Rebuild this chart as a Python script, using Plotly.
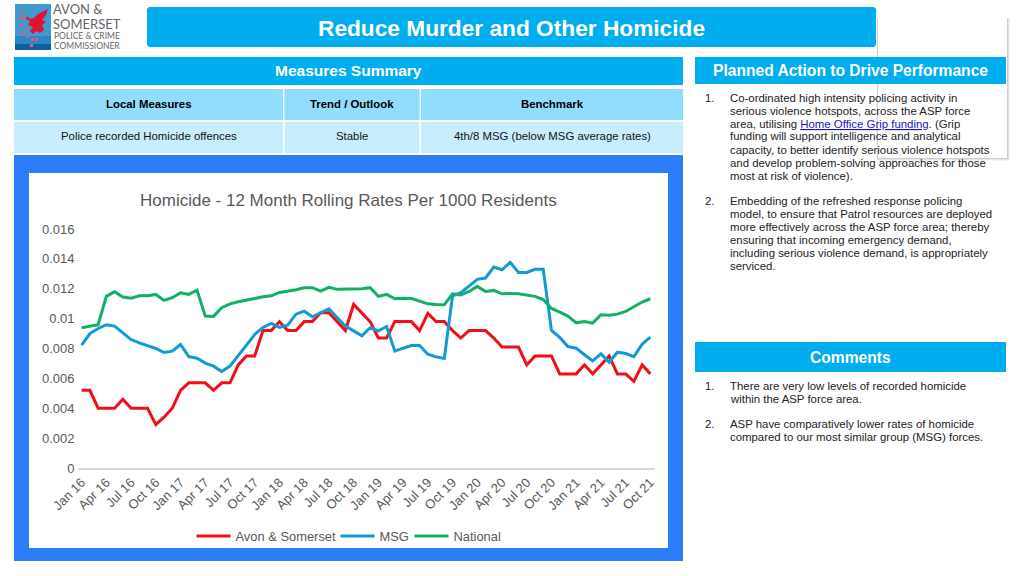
import plotly.graph_objects as go

W, H = 1024, 576
FONT = "Liberation Sans"

months = ["Jan", "Feb", "Mar", "Apr", "May", "Jun", "Jul", "Aug", "Sep", "Oct", "Nov", "Dec"]
categories = [f"{m} {y}" for y in (16, 17, 18, 19, 20, 21) for m in months][:70]
tick_labels = categories[::3]

avon_somerset = [.0052, .0052, .0040, .0040, .0040, .0046, .0040, .0040, .0040, .0029,
                 .0034, .0040, .0052, .0057, .0057, .0057, .0052, .0057, .0057, .0069,
                 .0075, .0075, .0092, .0092, .0098, .0092, .0092, .0098, .0098, .0104,
                 .0104, .0098, .0092, .01095, .01035, .0098, .0087, .0087, .0098, .0098,
                 .0098, .0092, .01035, .0098, .0098, .0092, .0087, .0092, .0092, .0092,
                 .0087, .0081, .0081, .0081, .0069, .0075, .0075, .0075, .0063, .0063,
                 .0063, .0069, .0063, .0069, .0075, .0063, .0063, .0058, .0069, .0063]
msg = [.00822, .0090, .00934, .00959, .0095, .00905, .0086, .00838, .0082, .0080,
       .00773, .00782, .00827, .00746, .00735, .00702, .00682, .00646, .00682, .00753,
       .00827, .00894, .00941, .00968, .00941, .00956, .0103, .0105, .01012, .01041,
       .01066, .01008, .0095, .00918, .00885, .00939, .00918, .00947, .00782, .00802,
       .0082, .0082, .00762, .00744, .00733, .01153, .01173, .01218, .01263, .01272,
       .01345, .01327, .01377, .01309, .01309, .0133, .0133, .00921, .00874, .00813,
       .00802, .00758, .00717, .00764, .00708, .00775, .00766, .00746, .00829, .00876]
national = [.00939, .0095, .00959, .01149, .0118, .01144, .01137, .01153, .01153, .01162,
            .01122, .0114, .01173, .01162, .01191, .01017, .01015, .01073, .01099, .01113,
            .01122, .01135, .01146, .01153, .01175, .01184, .01193, .01207, .01207, .01184,
            .01209, .01196, .01198, .01196, .012, .01207, .01149, .01162, .01133, .01137,
            .01135, .01117, .01099, .01095, .01093, .01166, .01158, .01182, .01216, .01182,
            .01189, .01166, .01169, .01166, .01155, .01149, .01128, .01068, .01044, .01017,
            .00972, .00981, .0097, .01026, .01023, .0103, .01048, .01079, .01111, .01133]

y_ticks = [0, 0.002, 0.004, 0.006, 0.008, 0.01, 0.012, 0.014, 0.016]
y_tick_labels = ["0", "0.002", "0.004", "0.006", "0.008", "0.01", "0.012", "0.014", "0.016"]

table_headers = ["Local Measures", "Trend / Outlook", "Benchmark"]
table_row = ["Police recorded Homicide offences", "Stable", "4th/8 MSG (below MSG average rates)"]

LINK = '<span style="color:#1a12c8"><u>Home Office Grip funding</u></span>'
action_lines = [
    ("1.", 97.5, "Co-ordinated high intensity policing activity in"),
    ("", 110.5, "serious violence hotspots, across the ASP force"),
    ("", 123.5, f"area, utilising {LINK}. (Grip"),
    ("", 136.5, "funding will support intelligence and analytical"),
    ("", 149.5, "capacity, to better identify serious violence hotspots"),
    ("", 162.5, "and develop problem-solving approaches for those"),
    ("", 175.5, "most at risk of violence)."),
    ("2.", 201, "Embedding of the refreshed response policing"),
    ("", 214, "model, to ensure that Patrol resources are deployed"),
    ("", 227, "more effectively across the ASP force area; thereby"),
    ("", 240, "ensuring that incoming emergency demand,"),
    ("", 253, "including serious violence demand, is appropriately"),
    ("", 265.5, "serviced."),
]
comment_lines = [
    ("1.", 385.5, "There are very low levels of recorded homicide"),
    ("", 398.5, "within the ASP force area."),
    ("2.", 424, "ASP have comparatively lower rates of homicide"),
    ("", 437, "compared to our most similar group (MSG) forces."),
]

def px(x): return x / W
def py(y): return 1 - y / H

shapes, annotations = [], []

def rect(x0, y0, x1, y1, color, layer="below", opacity=1):
    shapes.append(dict(type="rect", xref="paper", yref="paper", x0=px(x0), x1=px(x1),
                       y0=py(y0), y1=py(y1), fillcolor=color, line_width=0,
                       layer=layer, opacity=opacity))

def poly(points, color):
    path = "M" + " L".join(f"{px(a):.5f},{py(b):.5f}" for a, b in points) + " Z"
    shapes.append(dict(type="path", xref="paper", yref="paper", path=path,
                       fillcolor=color, line_width=0, layer="below"))

def text(x, y, s, size, color="#000000", anchor="center", bold=False, family=FONT):
    annotations.append(dict(xref="paper", yref="paper", x=px(x), y=py(y), text=f"<b>{s}</b>" if bold else s,
                            showarrow=False, xanchor=anchor, yanchor="middle", align=anchor,
                            font=dict(family=family, size=size, color=color), borderpad=0, borderwidth=0))

# shadowed panel behind the right column
for off, op in ((3, .08), (2, .14), (1, .22)):
    rect(877, 18, 1007 + off, 158 + off, "#808080", opacity=op)
rect(876.5, 48, 878, 158, "#d8d8d8", opacity=.5)
rect(878, 17, 1007, 158, "#ffffff")

# header bars
BAR = "#00AEEF"
poly([(149, 7), (874, 7), (876, 9), (876, 45), (874, 47), (149, 47), (147, 45), (147, 9)], BAR)
text(511, 28, "Reduce Murder and Other Homicide", 22.7, "#ffffff", bold=True)
rect(14, 57, 683, 85, BAR)
text(348.5, 71, "Measures Summary", 15.5, "#ffffff", bold=True)
rect(695, 57, 1006, 84, BAR)
text(850.5, 70.5, "Planned Action to Drive Performance", 15.6, "#ffffff", bold=True)
rect(695, 342, 1006, 372, BAR)
text(850.5, 357, "Comments", 15.6, "#ffffff", bold=True)

# table
columns = [(14, 283), (284.5, 419.5), (421, 683)]
for (x0, x1), head, cell in zip(columns, table_headers, table_row):
    rect(x0, 89, x1, 120, "#90DDFF")
    rect(x0, 122, x1, 153, "#C8EEFD")
    text((x0 + x1) / 2, 104, head, 11.4, "#000000", bold=True)
    text((x0 + x1) / 2, 136.5, cell, 11.4, "#111111")

# chart frame
rect(14, 155, 683, 561, "#2E7DF8")
rect(29, 173, 668, 548, "#ffffff")

# logo
rect(15, 4, 51, 50, "#3F9ACF")
rect(15, 36, 51, 44, "#2A86C4")
rect(15, 44, 51, 50, "#0F5F9F")
for sx, sy in ((21, 11), (19, 17), (23, 17), (20, 24), (25, 27), (21, 32), (26, 35), (31, 38), (35, 38), (30, 44)):
    rect(sx, sy, sx + 3, sy + 3, "#C7657F")
poly([(27, 16), (30, 19), (34, 18), (38, 14), (44, 11), (48, 9), (46, 15), (42, 20), (46, 22), (42, 25),
      (44, 30), (40, 33), (36, 31), (33, 34), (30, 31), (33, 27), (28, 25), (30, 21), (26, 19)], "#E2122E")
text(53, 9, "AVON &amp;", 13, "#5f6669", "left", family="Lato")
text(53, 24, "SOMERSET", 13, "#5f6669", "left", family="Lato")
text(54, 36, "POLICE &amp; CRIME", 8.5, "#5f6669", "left", family="Lato")
text(54, 46, "COMMISSIONER", 8.5, "#5f6669", "left", family="Lato")

# text columns
for num, y, s in action_lines + comment_lines:
    if num:
        text(705, y, num, 11.4, "#222222", "left")
    text(730, y, s, 11.4, "#222222", "left")

# chart title
text(348, 200, "Homicide - 12 Month Rolling Rates Per 1000 Residents", 17, "#595959")

fig = go.Figure()
for name, values, color, leg in (("Avon &amp; Somerset", avon_somerset, "#F20D17", "legend"),
                                 ("MSG", msg, "#119BD6", "legend2"),
                                 ("National", national, "#10B165", "legend3")):
    fig.add_trace(go.Scatter(x=categories, y=values, name=name, mode="lines", legend=leg,
                             line=dict(color=color, width=3), cliponaxis=False))

def legend_at(x):
    return dict(orientation="h", x=px(x), xanchor="left", y=py(536), yanchor="middle",
                font=dict(size=12.9, color="#595959", family=FONT), bgcolor="rgba(0,0,0,0)",
                itemwidth=34, itemclick=False, itemdoubleclick=False)

fig.update_layout(
    width=W, height=H, autosize=False,
    margin=dict(l=0, r=0, t=0, b=0, pad=0, autoexpand=False),
    paper_bgcolor="#ffffff", plot_bgcolor="rgba(0,0,0,0)",
    shapes=shapes, annotations=annotations,
    font=dict(family=FONT),
    hovermode=False,
    xaxis=dict(domain=[px(77.5), px(654.5)], type="category", categoryorder="array",
               categoryarray=categories, range=[-0.5, 69.5], tickmode="array",
               tickvals=tick_labels, ticktext=tick_labels, tickangle=-45,
               tickfont=dict(size=13, color="#595959", family=FONT),
               showgrid=False, zeroline=False, showline=True, linecolor="#D9D9D9",
               linewidth=1.5, ticks="", anchor="y"),
    yaxis=dict(domain=[py(468), py(229)], range=[0, 0.016], tickmode="array",
               tickvals=y_ticks, ticktext=y_tick_labels, ticklabelstandoff=2,
               tickfont=dict(size=13, color="#595959", family=FONT),
               showgrid=False, zeroline=False, showline=False, ticks="", anchor="x"),
    showlegend=True,
    legend=legend_at(191.5),
    legend2=legend_at(335.5),
    legend3=legend_at(409.5),
)

fig.write_html("out.html", config={"displayModeBar": False},
               post_script="document.body.style.margin='0';document.documentElement.style.overflow='hidden';window.dispatchEvent(new Event('resize'));")
